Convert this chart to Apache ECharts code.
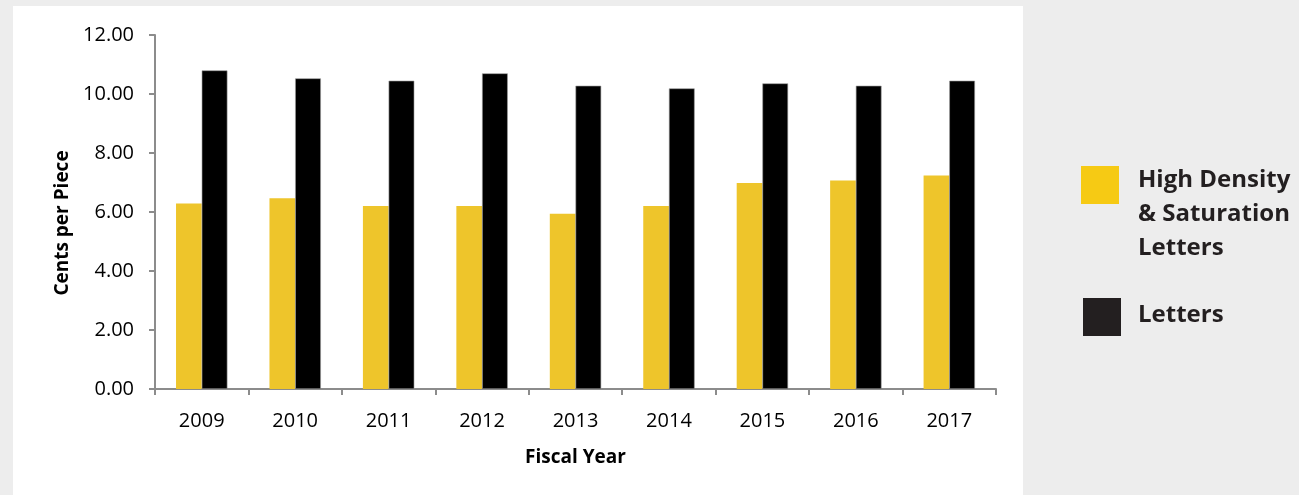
<!DOCTYPE html>
<html>
<head>
<meta charset="utf-8">
<title>Cents per Piece by Fiscal Year</title>
<script src="https://cdn.jsdelivr.net/npm/echarts@6/dist/echarts.min.js"></script>
<style>
  html, body { margin: 0; padding: 0; background: #ededed; }
  #panel { position: absolute; left: 13px; top: 6px; width: 1010px; height: 489px; background: #ffffff; }
  #chart { position: absolute; left: 0; top: 0; width: 1299px; height: 495px; }
</style>
</head>
<body>
<div id="panel"></div>
<div id="chart"></div>
<script>
// Fiscal years on the category axis
const years = ['2009', '2010', '2011', '2012', '2013', '2014', '2015', '2016', '2017'];

// Unit cost, cents per piece
const highDensitySaturation = [6.29, 6.47, 6.20, 6.20, 5.94, 6.20, 6.98, 7.07, 7.24];
const letters = [10.80, 10.53, 10.45, 10.70, 10.28, 10.19, 10.36, 10.28, 10.45];

// Series names and the wrapped legend labels
const seriesNames = ['High Density & Saturation Letters', 'Letters'];
const legendLabels = ['High Density\n& Saturation\nLetters', 'Letters'];

// Value axis ticks
const yMin = 0, yMax = 12, yStep = 2;

const FONT = "'Open Sans', 'DejaVu Sans', sans-serif";
const AXIS_GRAY = '#8c8c8c';
const BAR_YELLOW = '#eec52b';
const LEGEND_YELLOW = '#f6ca14';
const DARK = '#231f20';

const chart = echarts.init(document.getElementById('chart'), null, { renderer: 'canvas' });

chart.setOption({
  backgroundColor: 'transparent',
  animation: false,
  textStyle: { fontFamily: FONT },
  grid: { left: 155, right: 303, top: 35, bottom: 106, containLabel: false },
  xAxis: {
    type: 'category',
    data: years,
    name: 'Fiscal Year',
    nameLocation: 'middle',
    nameGap: 59,
    nameTextStyle: { fontFamily: FONT, fontSize: 19, fontWeight: 'bold', color: '#000' },
    axisLine: { lineStyle: { color: AXIS_GRAY, width: 2 } },
    axisTick: { show: true, length: 6, lineStyle: { color: AXIS_GRAY, width: 2 } },
    axisLabel: { fontFamily: FONT, fontSize: 20, color: '#000', margin: 22 },
    splitLine: { show: false }
  },
  yAxis: {
    type: 'value',
    min: yMin,
    max: yMax,
    interval: yStep,
    name: 'Cents per Piece',
    nameLocation: 'middle',
    nameGap: 79,
    nameTextStyle: { fontFamily: FONT, fontSize: 19, fontWeight: 'bold', color: '#000', padding: [0, 22, 0, 0] },
    axisLine: { show: true, lineStyle: { color: AXIS_GRAY, width: 2 } },
    axisTick: { show: true, length: 6, lineStyle: { color: AXIS_GRAY, width: 2 } },
    axisLabel: { fontFamily: FONT, fontSize: 20, color: '#000', margin: 21,
                 formatter: v => v.toFixed(2) },
    splitLine: { show: false }
  },
  legend: { show: false },
  series: [
    {
      name: seriesNames[0],
      type: 'bar',
      data: highDensitySaturation,
      barGap: '0%',
      barCategoryGap: '45%',
      itemStyle: { color: BAR_YELLOW }
    },
    {
      name: seriesNames[1],
      type: 'bar',
      data: letters,
      barGap: '0%',
      barCategoryGap: '45%',
      itemStyle: { color: '#000000', borderColor: '#9a9a9a', borderWidth: 0.6 }
    }
  ],
  graphic: [
    { type: 'rect', left: 1081, top: 166, shape: { width: 38, height: 38 }, style: { fill: LEGEND_YELLOW } },
    { type: 'text', left: 1138, top: 163,
      style: { text: legendLabels[0], fill: DARK, font: "bold 24px " + FONT, lineHeight: 34 } },
    { type: 'rect', left: 1083, top: 298, shape: { width: 38, height: 38 }, style: { fill: DARK } },
    { type: 'text', left: 1138, top: 298,
      style: { text: legendLabels[1], fill: DARK, font: "bold 24px " + FONT, lineHeight: 34 } }
  ]
});
</script>
</body>
</html>
